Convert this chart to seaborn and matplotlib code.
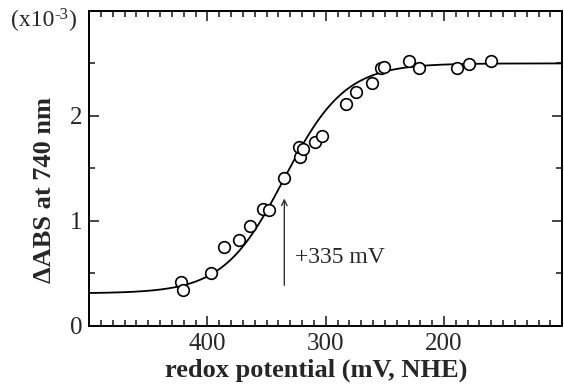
import numpy as np
import pandas as pd
import matplotlib
matplotlib.use("Agg")
import matplotlib.pyplot as plt
from matplotlib.ticker import MultipleLocator
from matplotlib.transforms import offset_copy
import seaborn as sns

# Puntos medidos (potencial en mV vs NHE, absorbancia x10^-3)
potencial = [422, 421, 397, 386, 373, 364, 353, 348, 335, 322, 323, 319,
             309, 303, 283, 274, 261, 253, 251, 230, 221, 189, 179, 160]
absorbancia = [0.42, 0.34, 0.50, 0.75, 0.82, 0.95, 1.11, 1.10, 1.41, 1.61,
               1.70, 1.68, 1.75, 1.81, 2.11, 2.23, 2.31, 2.46, 2.47, 2.52,
               2.46, 2.46, 2.49, 2.52]

# Parametros del ajuste de Nernst (n = 1)
em = 335
n_e = 1
abs_min = 0.31
abs_max = 2.50

df = pd.DataFrame({"E": potencial, "A": absorbancia})

e_fit = np.linspace(500, 100, 400)
a_fit = abs_min + (abs_max - abs_min) / (1 + np.exp((e_fit - em) * n_e / 25.7))
fit = pd.DataFrame({"E": e_fit, "A": a_fit})

sns.set_style("ticks")
plt.rcParams["font.family"] = ["Liberation Serif", "DejaVu Serif"]

fig = plt.figure(figsize=(5.64, 3.88), dpi=100)
ax = fig.add_axes([0.158, 0.16, 0.839, 0.812])

sns.lineplot(data=fit, x="E", y="A", color="black", linewidth=1.3, ax=ax)
sns.scatterplot(data=df, x="E", y="A", s=70, facecolor="white",
                edgecolor="black", linewidth=1.2, zorder=3, ax=ax)

ax.set_xlim(500, 100)
ax.set_ylim(0, 3)
ax.xaxis.set_minor_locator(MultipleLocator(10))
ax.yaxis.set_minor_locator(MultipleLocator(0.5))
ax.set_xticks([400, 300, 200])
ax.set_yticks([0, 1, 2])
ax.tick_params(which="both", direction="in", top=True, right=True,
               labelsize=18, width=1.2, pad=5)
ax.tick_params(which="major", length=7)
ax.tick_params(which="minor", length=4)
for s in ax.spines.values():
    s.set_linewidth(1.4)
    s.set_color("black")

ax.set_xlabel("redox potential (mV, NHE)", fontsize=19, fontweight="bold")
ax.set_ylabel("ΔABS at 740 nm", fontsize=19, fontweight="bold")
ax.xaxis.set_label_coords(0.48, -0.105)
ax.yaxis.set_label_coords(-0.07, 0.43)

ax.annotate("", xy=(335, 1.24), xytext=(335, 0.36),
            arrowprops=dict(arrowstyle="->", color="#333333", lw=1.0))
ax.text(326, 0.65, "+335 mV", fontsize=17, va="center", ha="left")

# Factor de escala "(x10-3)" arriba a la izquierda
fig.canvas.draw()
r = fig.canvas.get_renderer()
t1 = fig.text(0.02, 0.948, "(x10", fontsize=17, va="center", ha="left")
w1 = t1.get_window_extent(r).width
t2 = fig.text(0.02, 0.948, "-3", fontsize=12, va="center", ha="left",
              transform=offset_copy(fig.transFigure, fig=fig, x=w1, y=5, units="dots"))
w2 = t2.get_window_extent(r).width
fig.text(0.02, 0.948, ")", fontsize=17, va="center", ha="left",
         transform=offset_copy(fig.transFigure, fig=fig, x=w1 + w2, y=0, units="dots"))

plt.savefig("out.png", dpi=100)
